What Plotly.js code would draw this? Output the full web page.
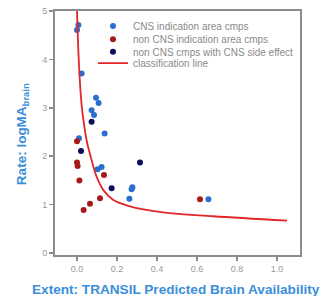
<!DOCTYPE html>
<html>
<head>
<meta charset="utf-8">
<script src="https://cdn.plot.ly/plotly-3.0.1.min.js"></script>
<style>html,body{margin:0;padding:0;background:#fff;}#chart{width:332px;height:296px;}</style>
</head>
<body>
<div id="chart"></div>
<script>
// Data
const cnsX = [0.0, 0.007, 0.023, 0.095, 0.108, 0.073, 0.085, 0.138, 0.01, 0.103, 0.123, 0.277, 0.273, 0.262, 0.657];
const cnsY = [4.61, 4.71, 3.71, 3.21, 3.10, 2.95, 2.85, 2.47, 2.37, 1.73, 1.78, 1.36, 1.32, 1.12, 1.11];
const nonCnsX = [0.0, 0.0, 0.003, 0.135, 0.012, 0.115, 0.065, 0.033, 0.615];
const nonCnsY = [2.31, 1.87, 1.80, 1.61, 1.50, 1.13, 1.02, 0.89, 1.11];
const sideX = [0.073, 0.02, 0.315, 0.173];
const sideY = [2.71, 2.11, 1.87, 1.34];
const lineX = [0.0, 0.01, 0.023, 0.032, 0.048, 0.073, 0.098, 0.132, 0.18, 0.26, 0.43, 0.68, 1.05];
const lineY = [5.0, 3.88, 3.06, 2.75, 2.33, 1.92, 1.58, 1.30, 1.10, 0.97, 0.84, 0.76, 0.67];
const xTicks = [0.0, 0.2, 0.4, 0.6, 0.8, 1.0];
const yTicks = [0, 1, 2, 3, 4, 5];
const names = ["CNS indication area cmps", "non CNS indication area cmps", "non CNS cmps with CNS side effect", "classification line"];

const FONT = "Liberation Sans, Arial, sans-serif";
const mk = (c) => ({size: 6, color: c});
const traces = [
  {x: cnsX, y: cnsY, type: "scatter", mode: "markers", name: names[0], marker: mk("#2a6fd0"), legend: "legend"},
  {x: nonCnsX, y: nonCnsY, type: "scatter", mode: "markers", name: names[1], marker: mk("#a81a1a"), legend: "legend2"},
  {x: sideX, y: sideY, type: "scatter", mode: "markers", name: names[2], marker: mk("#0c0c5c"), legend: "legend3"},
  {x: lineX, y: lineY, type: "scatter", mode: "lines", name: names[3], line: {color: "#e3262a", width: 1.8, shape: "spline"}, legend: "legend4"}
];
const legBase = (y) => ({x: 0.155, y: y, xanchor: "left", yanchor: "middle", bgcolor: "rgba(0,0,0,0)", borderwidth: 0,
  font: {family: FONT, size: 10, color: "#8a8a8a"}, itemwidth: 30, tracegroupgap: 0});
const layout = {
  width: 332, height: 296,
  margin: {l: 55, r: 32, t: 11, b: 41},
  paper_bgcolor: "#fff", plot_bgcolor: "#fff",
  showlegend: true,
  legend: legBase(0.9385), legend2: legBase(0.884), legend3: legBase(0.833), legend4: legBase(0.786),
  xaxis: {range: [-0.11, 1.115], tickvals: xTicks, tickformat: ".1f", ticks: "outside", ticklen: 4, tickwidth: 1.5,
    tickcolor: "#8c8c8c", showline: true, mirror: true, linecolor: "#8c8c8c", linewidth: 2, showgrid: false, zeroline: false,
    tickfont: {family: FONT, size: 9, color: "#9a9a9a"}},
  yaxis: {range: [-0.04, 5], tickvals: yTicks, ticks: "outside", ticklen: 4, tickwidth: 1.5,
    tickcolor: "#8c8c8c", showline: true, mirror: true, linecolor: "#8c8c8c", linewidth: 2, showgrid: false, zeroline: false,
    tickfont: {family: FONT, size: 9, color: "#9a9a9a"}},
  annotations: [
    {text: "<b>Extent: TRANSIL Predicted Brain Availability</b>", xref: "paper", yref: "paper", x: 0.495, y: -0.143,
      xanchor: "center", yanchor: "middle", showarrow: false, font: {family: FONT, size: 13.6, color: "#3b8ed8"}},
    {text: "<b>Rate: logMA<sub>brain</sub></b>", xref: "paper", yref: "paper", x: -0.13, y: 0.496, textangle: -90,
      xanchor: "center", yanchor: "middle", showarrow: false, font: {family: FONT, size: 13.5, color: "#3b8ed8"}}
  ]
};
Plotly.newPlot("chart", traces, layout, {displayModeBar: false, staticPlot: true});
</script>
</body>
</html>
